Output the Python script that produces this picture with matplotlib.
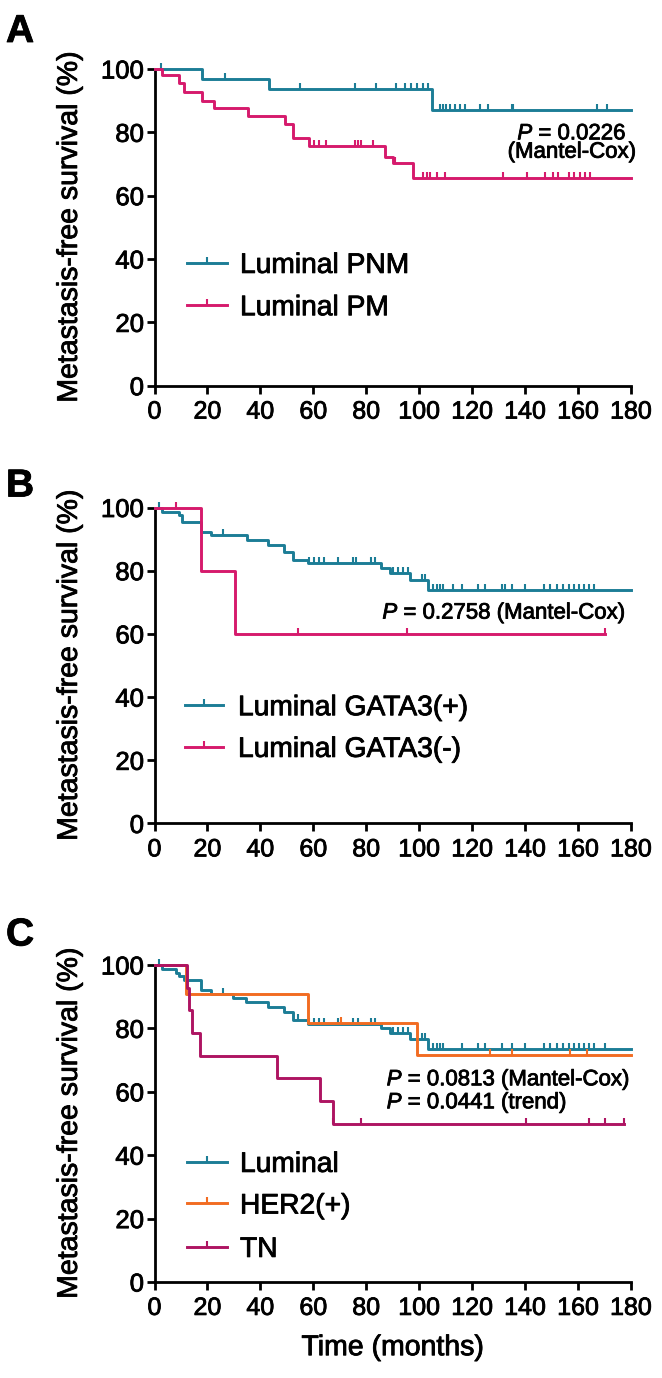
import numpy as np
import matplotlib
matplotlib.use('Agg')
import matplotlib.pyplot as plt
import matplotlib.patheffects as pe
from matplotlib.path import Path
from matplotlib.lines import Line2D
from matplotlib.text import Text

plt.rcParams['font.family'] = ['Liberation Sans', 'DejaVu Sans']
plt.rcParams['mathtext.fontset'] = 'custom'
plt.rcParams['mathtext.it'] = 'Liberation Sans:italic'
plt.rcParams['mathtext.rm'] = 'Liberation Sans'

# ---------------- data (months, % metastasis-free) ----------------
x_ticks = [0, 20, 40, 60, 80, 100, 120, 140, 160, 180]
y_ticks = [0, 20, 40, 60, 80, 100]

# Panel A
pnm_label = "Luminal PNM"
pnm_events = [18.1, 43.4, 104.7]
pnm_levels = [96.7, 93.6, 87.2]
pnm_censor = [2.3, 26.6, 54.8, 75.6, 83.8, 91.4, 94.8, 96.9, 99.0, 101.5, 103.4,
              107.8, 109.1, 110.3, 111.6, 113.5, 115.4, 117.3, 123.0, 126.1,
              135.0, 135.6, 167.2, 171.0]
pnm_end = 180

pm_label = "Luminal PM"
pm_events = [3.0, 9.3, 11.2, 18.1, 22.3, 35.5, 49.3, 52.5, 58.5, 87.0, 90.0, 97.7]
pm_levels = [98.1, 95.5, 92.7, 89.9, 87.6, 85.2, 82.6, 78.1, 75.6, 72.2, 70.2, 65.7]
pm_censor = [60.4, 62.3, 64.9, 75.6, 76.8, 78.1, 82.5, 91.0, 101.5, 102.9, 104.0,
             106.6, 109.7, 131.8, 140.7, 147.7, 150.7, 152.6, 156.4, 158.3,
             160.9, 162.8, 164.7]
pm_end = 180

# Panel B
gp_label = "Luminal GATA3(+)"
gp_events = [3.0, 9.3, 10.5, 17.7, 21.3, 35.0, 42.8, 49.1, 52.2, 57.9, 85.5, 88.9, 96.4, 103.4]
gp_levels = [98.7, 97.6, 95.5, 92.3, 91.3, 89.7, 88.1, 86.0, 83.4, 82.3, 80.8, 79.2, 77.1, 73.9]
gp_censor = [1.7, 25.7, 58.5, 60.4, 62.3, 64.2, 69.3, 75.0, 76.2, 81.9, 83.2, 90.1,
             92.0, 93.9, 95.8, 100.9, 102.1, 105.3, 106.6, 107.8, 109.1, 112.8,
             116.0, 122.3, 124.9, 131.2, 132.4, 135.0, 140.0, 147.0, 149.5, 152.0,
             154.5, 156.4, 158.3, 160.2, 162.1, 164.0, 165.9]
gp_end = 180

gn_label = "Luminal GATA3(-)"
gn_events = [17.5, 30.4]
gn_levels = [80.0, 60.0]
gn_censor = [8.0, 54.1, 95.2, 170.1]
gn_end = 170.1

# Panel C
lum_label = "Luminal"
lum_events = [3.0, 8.0, 9.3, 11.2, 17.5, 21.3, 29.5, 34.6, 42.8, 49.1, 52.2, 57.9,
              85.7, 88.9, 96.4, 103.4]
lum_levels = [98.6, 97.5, 96.5, 95.3, 92.1, 90.7, 89.5, 88.4, 86.8, 85.2, 82.8, 81.3,
              80.0, 78.4, 76.5, 73.4]
lum_censor = [1.7, 25.7, 54.1, 58.5, 60.4, 62.3, 64.2, 69.3, 75.0, 76.8, 81.9, 83.2,
              90.1, 92.0, 93.9, 95.8, 100.9, 102.1, 105.3, 106.6, 107.8, 109.1,
              116.0, 122.3, 124.9, 131.2, 135.0, 140.0, 147.0, 149.5, 152.0, 154.5,
              156.4, 158.3, 160.2, 162.1, 164.0, 165.9, 170.3]
lum_end = 180

her_label = "HER2(+)"
her_events = [12.0, 58.1, 99.0]
her_levels = [90.9, 81.8, 71.6]
her_censor = [70.5, 126.8, 135.0, 157.1, 163.4]
her_end = 180

tn_label = "TN"
tn_events = [12.2, 13.1, 14.0, 17.2, 46.1, 62.5, 67.3]
tn_levels = [92.9, 85.7, 78.6, 71.4, 64.3, 57.1, 50.0]
tn_censor = [67.5, 78.1, 140.3, 164.0, 170.3, 177.3]
tn_end = 177.3

p_texts_a = [r"$\it{P}$ = 0.0226", "(Mantel-Cox)"]
p_texts_b = [r"$\it{P}$ = 0.2758 (Mantel-Cox)"]
p_texts_c = [r"$\it{P}$ = 0.0813 (Mantel-Cox)", r"$\it{P}$ = 0.0441 (trend)"]

# ---------------- styling ----------------
TEAL = '#1C7D96'
PINK = '#D61A6C'
ORANGE = '#F26C22'
TNCOL = '#AE1462'

W, H = 662, 1378
fig = plt.figure(figsize=(W / 100, H / 100), dpi=100)

TICK = Path([(0, 0), (0, 1)], [Path.MOVETO, Path.LINETO])
LW = 2.1
MS = 9
MEW = 1.5

X0, X1 = 154.5, 631.0


def make_ax(top, bottom):
    ax = fig.add_axes([X0 / W, 1 - bottom / H, (X1 - X0) / W, (bottom - top) / H])
    ax.set_xlim(0, 180)
    ax.set_ylim(0, 100)
    ax.set_xticks(x_ticks)
    ax.set_yticks(y_ticks)
    ax.set_xticklabels([str(v) for v in x_ticks], fontsize=18)
    ax.set_yticklabels([str(v) for v in y_ticks], fontsize=18.5)
    for s in ['top', 'right']:
        ax.spines[s].set_visible(False)
    for s in ['left', 'bottom']:
        ax.spines[s].set_linewidth(2.0)
    ax.tick_params(axis='both', direction='out', length=6, width=2.0)
    ax.tick_params(axis='x', pad=4)
    ax.tick_params(axis='y', pad=1.5)
    ax.set_ylabel("Metastasis-free survival (%)", fontsize=20.5, labelpad=13)
    return ax


def km(ax, events, levels, censor, end, color):
    t = [0] + list(events) + [end]
    s = [100] + list(levels) + [levels[-1]]
    ax.step(t, s, where='post', color=color, lw=LW, clip_on=False, zorder=3)
    tt = np.array(t[:-1])
    cs = [s[np.searchsorted(tt, c, side='right') - 1] for c in censor]
    ax.plot(censor, cs, ls='none', marker=TICK, ms=MS, mew=MEW, color=color,
            clip_on=False, zorder=3)


def legend_entry(y, color, label, x0=187, x1=227, xt=240):
    fy = 1 - y / H
    fig.add_artist(Line2D([x0 / W, (x0 + x1) / 2 / W, x1 / W], [fy, fy, fy],
                          transform=fig.transFigure, color=color, lw=LW,
                          marker=TICK, markevery=[1], ms=MS, mew=MEW))
    fig.text(xt / W, 1 - (y + 10.2) / H, label, fontsize=20.3, va='baseline', ha='left')


def ftext(x, y, s, ha, size=16, **kw):
    fig.text(x / W, 1 - y / H, s, fontsize=size, ha=ha, va='baseline', **kw)


# Panel A
axA = make_ax(69, 385.7)
km(axA, pnm_events, pnm_levels, pnm_censor, pnm_end, TEAL)
km(axA, pm_events, pm_levels, pm_censor, pm_end, PINK)
legend_entry(262.7, TEAL, pnm_label)
legend_entry(305, PINK, pm_label)
ftext(572, 139.4, p_texts_a[0], 'center')
ftext(572, 157.7, p_texts_a[1], 'center')
ftext(6, 42, "A", 'left', size=28, fontweight='bold')

# Panel B
axB = make_ax(507.5, 823.5)
km(axB, gp_events, gp_levels, gp_censor, gp_end, TEAL)
km(axB, gn_events, gn_levels, gn_censor, gn_end, PINK)
legend_entry(705, TEAL, gp_label, x0=185, x1=223, xt=238)
legend_entry(746.7, PINK, gn_label, x0=185, x1=223, xt=238)
ftext(626, 618.7, p_texts_b[0], 'right')
ftext(6, 496.5, "B", 'left', size=28, fontweight='bold')

# Panel C
axC = make_ax(965, 1282)
km(axC, lum_events, lum_levels, lum_censor, lum_end, TEAL)
km(axC, her_events, her_levels, her_censor, her_end, ORANGE)
km(axC, tn_events, tn_levels, tn_censor, tn_end, TNCOL)
legend_entry(1161.7, TEAL, lum_label)
legend_entry(1203.3, ORANGE, her_label)
legend_entry(1246.7, TNCOL, tn_label)
ftext(386.7, 1085.4, p_texts_c[0], 'left')
ftext(386.7, 1108.4, p_texts_c[1], 'left')
ftext(6, 945.5, "C", 'left', size=28, fontweight='bold')
axC.set_xlabel("Time (months)", fontsize=20.5, labelpad=11)

# slightly heavier text strokes, like the reference rendering
for t in fig.findobj(Text):
    if t.get_text():
        t.set_path_effects([pe.withStroke(linewidth=0.6, foreground='black')])

fig.savefig('out.png', dpi=100)
